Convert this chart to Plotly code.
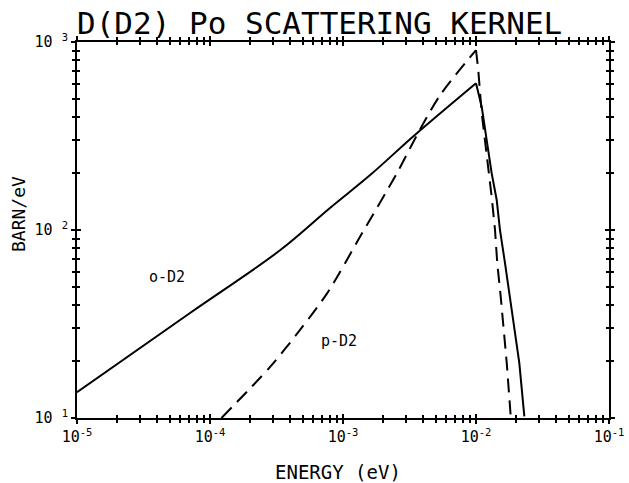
import plotly.graph_objects as go

# ---- data ----
ortho_energy = [1e-5, 7.08e-5, 3.36e-4, 7.98e-4, 1.60e-3, 3.47e-3, 1.0e-2,
                0.01104, 0.01203, 0.01312, 0.01431, 0.01515, 0.01652, 0.01803,
                0.01965, 0.02117, 0.02309]
ortho_kernel = [13.7, 36.2, 78, 131, 196, 320, 603,
                453, 301, 200, 144.5, 100, 66.7, 44.2,
                29.4, 19.6, 10.2]
ortho_peak = 6  # index of the peak

para_energy = [1.22e-4, 2.83e-4, 4.75e-4, 7.59e-4, 1.39e-3, 2.55e-3, 3.6e-3, 5.36e-3, 1.0e-2,
               0.0104, 0.01104, 0.01239, 0.01312, 0.0139, 0.01445, 0.01534,
               0.01625, 0.01703, 0.01824]
para_kernel = [10.0, 18.7, 29.4, 46, 96, 201, 320, 520, 906,
               709, 419, 217, 150, 100, 66.7, 44.2,
               29.4, 19.6, 10.2]
para_peak = 8

x_tick_vals = [1e-5, 1e-4, 1e-3, 1e-2, 1e-1]
x_tick_text = ["10<sup>-5</sup>", "10<sup>-4</sup>", "10<sup>-3</sup>", "10<sup>-2</sup>", "10<sup>-1</sup>"]
y_tick_vals = [10, 100, 1000]
y_tick_text = ["10 <sup>1</sup>", "10 <sup>2</sup>", "10 <sup>3</sup>"]

title_text = "D(D2) Po SCATTERING KERNEL"
x_title = "ENERGY (eV)"
y_title = "BARN/eV"
ortho_label = "o-D2"
para_label = "p-D2"

FONT = "DejaVu Sans Mono"

fig = go.Figure()
solid_rise = dict(color="black", width=2, shape="spline", smoothing=1.0)
solid_fall = dict(color="black", width=2)
dashed_rise = dict(color="black", width=2, dash="14px,8px", shape="spline", smoothing=0.8)
dashed_fall = dict(color="black", width=2, dash="14px,8px")
# each curve drawn as rising branch + falling branch so the sharp peak is kept
fig.add_trace(go.Scatter(x=ortho_energy[:ortho_peak + 1], y=ortho_kernel[:ortho_peak + 1],
                         mode="lines", line=solid_rise, showlegend=False))
fig.add_trace(go.Scatter(x=ortho_energy[ortho_peak:], y=ortho_kernel[ortho_peak:],
                         mode="lines", line=solid_fall, showlegend=False))
fig.add_trace(go.Scatter(x=para_energy[:para_peak + 1], y=para_kernel[:para_peak + 1],
                         mode="lines", line=dashed_rise, showlegend=False))
fig.add_trace(go.Scatter(x=para_energy[para_peak:], y=para_kernel[para_peak:],
                         mode="lines", line=dashed_fall, showlegend=False))
# empty trace to carry the overlay axes (inside tick marks)
fig.add_trace(go.Scatter(x=[], y=[], xaxis="x2", yaxis="y2", showlegend=False))

common_axis = dict(type="log", showgrid=False, zeroline=False, showline=True,
                   linecolor="black", linewidth=2, tickcolor="black", automargin=False)

fig.update_layout(
    width=629, height=483,
    margin=dict(l=77, r=20, t=42, b=65),
    paper_bgcolor="white", plot_bgcolor="white",
    font=dict(family=FONT, color="black"),
    title=dict(text=title_text, x=77/629, xanchor="left", xref="container",
               y=1 - 23/483, yanchor="middle", yref="container",
               font=dict(family=FONT, size=31, color="black")),
    xaxis=dict(**common_axis, range=[-5, -1], tickmode="array",
               tickvals=x_tick_vals, ticktext=x_tick_text,
               ticks="outside", ticklen=4, tickwidth=1.5, mirror="allticks",
               minor=dict(ticks="outside", ticklen=3, tickwidth=1.5, dtick="D1", tickcolor="black"),
               tickfont=dict(size=15, family=FONT)),
    yaxis=dict(**common_axis, range=[1, 3], tickmode="array",
               tickvals=y_tick_vals, ticktext=y_tick_text,
               ticks="outside", ticklen=4, tickwidth=1.5, mirror="allticks",
               minor=dict(ticks="outside", ticklen=3, tickwidth=1.5, dtick="D1", tickcolor="black"),
               tickfont=dict(size=15, family=FONT)),
    xaxis2=dict(**common_axis, range=[-5, -1], overlaying="x", anchor="y2",
                ticks="inside", ticklen=4, tickwidth=1.5, dtick=1, mirror="allticks",
                minor=dict(ticks="inside", ticklen=3, tickwidth=1.5, dtick="D1", tickcolor="black"),
                showticklabels=False),
    yaxis2=dict(**common_axis, range=[1, 3], overlaying="y", anchor="x2",
                ticks="inside", ticklen=4, tickwidth=1.5, dtick=1, mirror="allticks",
                minor=dict(ticks="inside", ticklen=3, tickwidth=1.5, dtick="D1", tickcolor="black"),
                showticklabels=False),
)

# axis titles placed as paper annotations to match the reference positions
fig.add_annotation(x=(338 - 77) / 532, y=(418 - 472) / 376, xref="paper", yref="paper",
                   text=x_title, showarrow=False, xanchor="center", yanchor="middle",
                   font=dict(family=FONT, size=19, color="black"))
fig.add_annotation(x=(18 - 77) / 532, y=(418 - 214) / 376, xref="paper", yref="paper",
                   text=y_title, showarrow=False, textangle=-90, xanchor="center", yanchor="middle",
                   font=dict(family=FONT, size=18, color="black"))

fig.add_annotation(x=-4.323, y=1.75, text=ortho_label, showarrow=False,
                   font=dict(family=FONT, size=15, color="black"))
fig.add_annotation(x=-3.03, y=1.41, text=para_label, showarrow=False,
                   font=dict(family=FONT, size=15, color="black"))

# remove the browser's default 8px body margin so the figure fills the window exactly
fig.write_html("out.html", config={"displayModeBar": False},
               post_script="document.body.style.margin='0';document.body.style.overflow='hidden';")
